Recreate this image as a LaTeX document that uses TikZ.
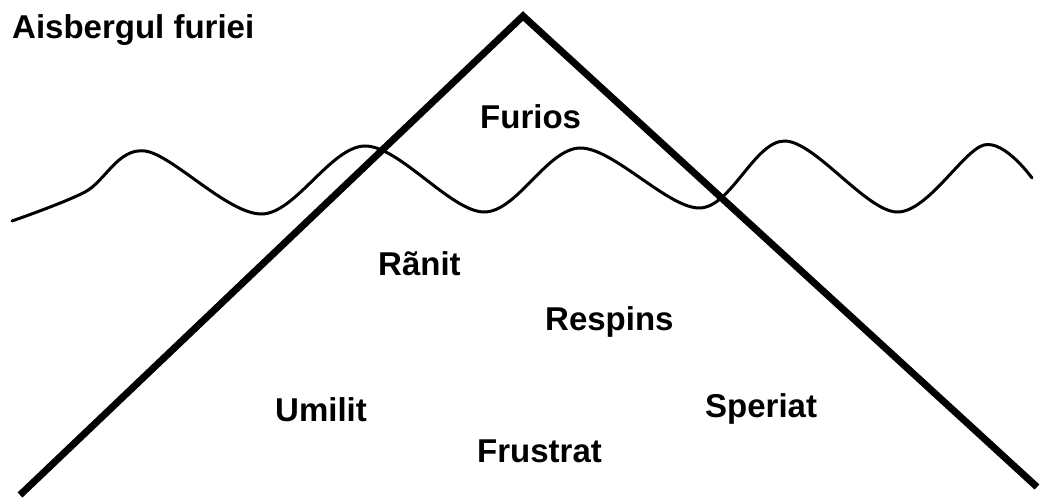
\documentclass[tikz,border=0pt]{standalone}
\usepackage{fontspec}
\setmainfont{Liberation Sans}
\usepackage{tikz}
\usetikzlibrary{positioning}

\begin{document}
\begin{tikzpicture}[
  x=1pt, y=-1pt,
  feeling/.style={inner sep=0pt,anchor=base west,font=\fontsize{33}{36}\selectfont\bfseries},
  berg/.style={line width=7pt,line join=miter},
  wave/.style={line width=3pt,line cap=round}
]
\useasboundingbox (0,0) rectangle (1043,503);
% iceberg
\coordinate (apex) at (523,16);
\coordinate (foot l) at (20,495);
\coordinate (foot r) at (1037,487);
\draw[berg] (foot l) -- (apex) -- (foot r);
% sea surface
\draw[wave] plot[smooth,tension=0.55] coordinates {
  (12,221) (85,192) (145,151) (262,214) (365,146) (484,212)
  (580,148) (700,208) (785,141) (897,212) (984,145) (1032,178)};
% labels
\node[feeling] (title) at (12,38) {Aisbergul furiei};
\node[feeling] (furios) at (480,128) {Furios};
\node[feeling] (ranit) at (378,275) {Rãnit};
\node[feeling] (respins) at (545,330) {Respins};
\node[feeling] (umilit) at (275,421) {Umilit};
\node[feeling] (speriat) at (705,417) {Speriat};
\node[feeling] (frustrat) at (477,462) {Frustrat};
\end{tikzpicture}
\end{document}
